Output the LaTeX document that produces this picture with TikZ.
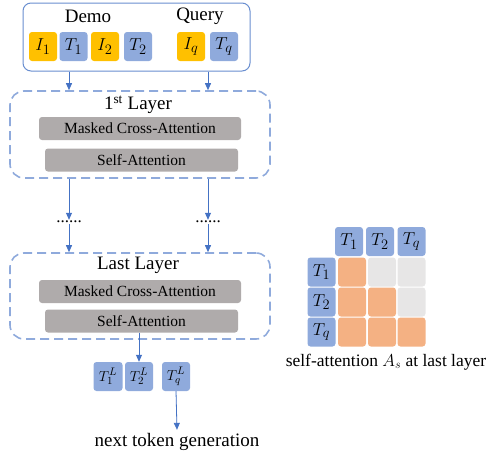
\documentclass[tikz,border=0pt]{standalone}
\usepackage{fontspec}
\setmainfont{Liberation Serif}
\usetikzlibrary{arrows.meta}
\definecolor{tokblue}{HTML}{8FAADC}
\definecolor{imgyellow}{HTML}{FFC000}
\definecolor{arrblue}{HTML}{4472C4}
\definecolor{blockgray}{HTML}{AFABAB}
\definecolor{attorange}{HTML}{F4B183}
\definecolor{attgray}{HTML}{E7E6E6}
\begin{document}
\begin{tikzpicture}[x=1pt,y=-1pt,
  tok/.style={rounded corners=3pt,minimum width=28pt,minimum height=29pt,inner sep=0pt,font=\fontsize{19}{19}\selectfont},
  img/.style={tok,fill=imgyellow},
  txt/.style={tok,fill=tokblue},
  att/.style={tok,fill=attorange},
  noatt/.style={tok,fill=attgray},
  layer/.style={draw=tokblue,line width=1.6pt,dash pattern=on 9pt off 5pt,rounded corners=14pt,minimum width=260pt,minimum height=87pt},
  block/.style={fill=blockgray,rounded corners=3pt,minimum height=23pt,inner sep=0pt,font=\fontsize{15.5}{15.5}\selectfont},
  lbl/.style={font=\fontsize{19}{19}\selectfont},
  arr/.style={-{Triangle[width=6pt,length=7pt]},draw=arrblue,fill=arrblue,line width=0.8pt}]
  \useasboundingbox (0,0) rectangle (491,455);
  % input box
  \node[draw=arrblue!80,line width=1pt,rounded corners=8pt,minimum width=227pt,minimum height=68pt] (inp) at (136.5,37) {};
  \node[lbl] (demo) at (88,16) {Demo};
  \node[lbl] (query) at (200,16) {Query};
  \node[img] (i1) at (43,46.5) {$I_1$};
  \node[txt] (t1) at (73.5,46.5) {$T_1$};
  \node[img] (i2) at (105,46.5) {$I_2$};
  \node[txt] (t2) at (138,46.5) {$T_2$};
  \node[img] (iq) at (191,46.5) {$I_q$};
  \node[txt] (tq) at (224,46.5) {$T_q$};
  \coordinate (ldemo) at (69,0); \coordinate (lquery) at (208,0);
  % first layer
  \node[layer] (layer1) at (140,134.5) {};
  \node[lbl] (name1) at (138,104.5) {1\textsuperscript{st} Layer};
  \node[block,minimum width=202pt] (cross1) at (140,128.5) {Masked Cross-Attention};
  \node[block,minimum width=193pt] (self1) at (141.5,160) {Self-Attention};
  \node[lbl,font=\fontsize{17}{17}\selectfont,inner sep=1pt] (dots1) at (69,222) {......};
  \node[lbl,font=\fontsize{17}{17}\selectfont,inner sep=1pt] (dots2) at (208,222) {......};
  % last layer
  \node[layer,minimum height=86pt] (layer2) at (140,296) {};
  \node[lbl] (name2) at (138,265.5) {Last Layer};
  \node[block,minimum width=202pt] (cross2) at (140,291.5) {Masked Cross-Attention};
  \node[block,minimum width=193pt] (self2) at (141.5,321) {Self-Attention};
  % output tokens
  \node[txt,font=\fontsize{15}{15}\selectfont,minimum width=29pt] (t1l) at (108,376.5) {$T_1^L$};
  \node[txt,font=\fontsize{15}{15}\selectfont] (t2l) at (139,376.5) {$T_2^L$};
  \node[txt,font=\fontsize{15}{15}\selectfont] (tql) at (176,376.5) {$T_q^L$};
  \node[lbl] (gen) at (177,442) {next token generation};
  % arrows
  \draw[arr] (inp.south -| ldemo) -- (layer1.north -| ldemo);
  \draw[arr] (inp.south -| lquery) -- (layer1.north -| lquery);
  \draw[arr] (layer1.south -| dots1) -- (dots1.north);
  \draw[arr] (layer1.south -| dots2) -- (dots2.north);
  \draw[arr] (dots1.south) -- (layer2.north -| dots1);
  \draw[arr] (dots2.south) -- (layer2.north -| dots2);
  \draw[arr] (self2.south -| t2l) -- (t2l.north);
  \draw[arr] (tql.south) -- (gen.north);
  % attention map
  \node[txt] (c1) at (349,241.5) {$T_1$};
  \node[txt] (c2) at (380,241.5) {$T_2$};
  \node[txt] (c3) at (411.5,241.5) {$T_q$};
  \node[txt] (r1) at (321.5,272) {$T_1$};
  \node[txt] (r2) at (321.5,302) {$T_2$};
  \node[txt] (r3) at (321.5,332) {$T_q$};
  \node[att] (a11) at (352,272) {}; \node[noatt] (a12) at (382,272) {}; \node[noatt] (a13) at (411.5,272) {};
  \node[att] (a21) at (352,302) {}; \node[att] (a22) at (382,302) {}; \node[noatt] (a23) at (411.5,302) {};
  \node[att] (a31) at (352,332) {}; \node[att] (a32) at (382,332) {}; \node[att] (a33) at (411.5,332) {};
  \node[lbl,font=\fontsize{17.5}{17.5}\selectfont] (cap) at (386,362) {self-attention $A_s$ at last layer};
\end{tikzpicture}
\end{document}
